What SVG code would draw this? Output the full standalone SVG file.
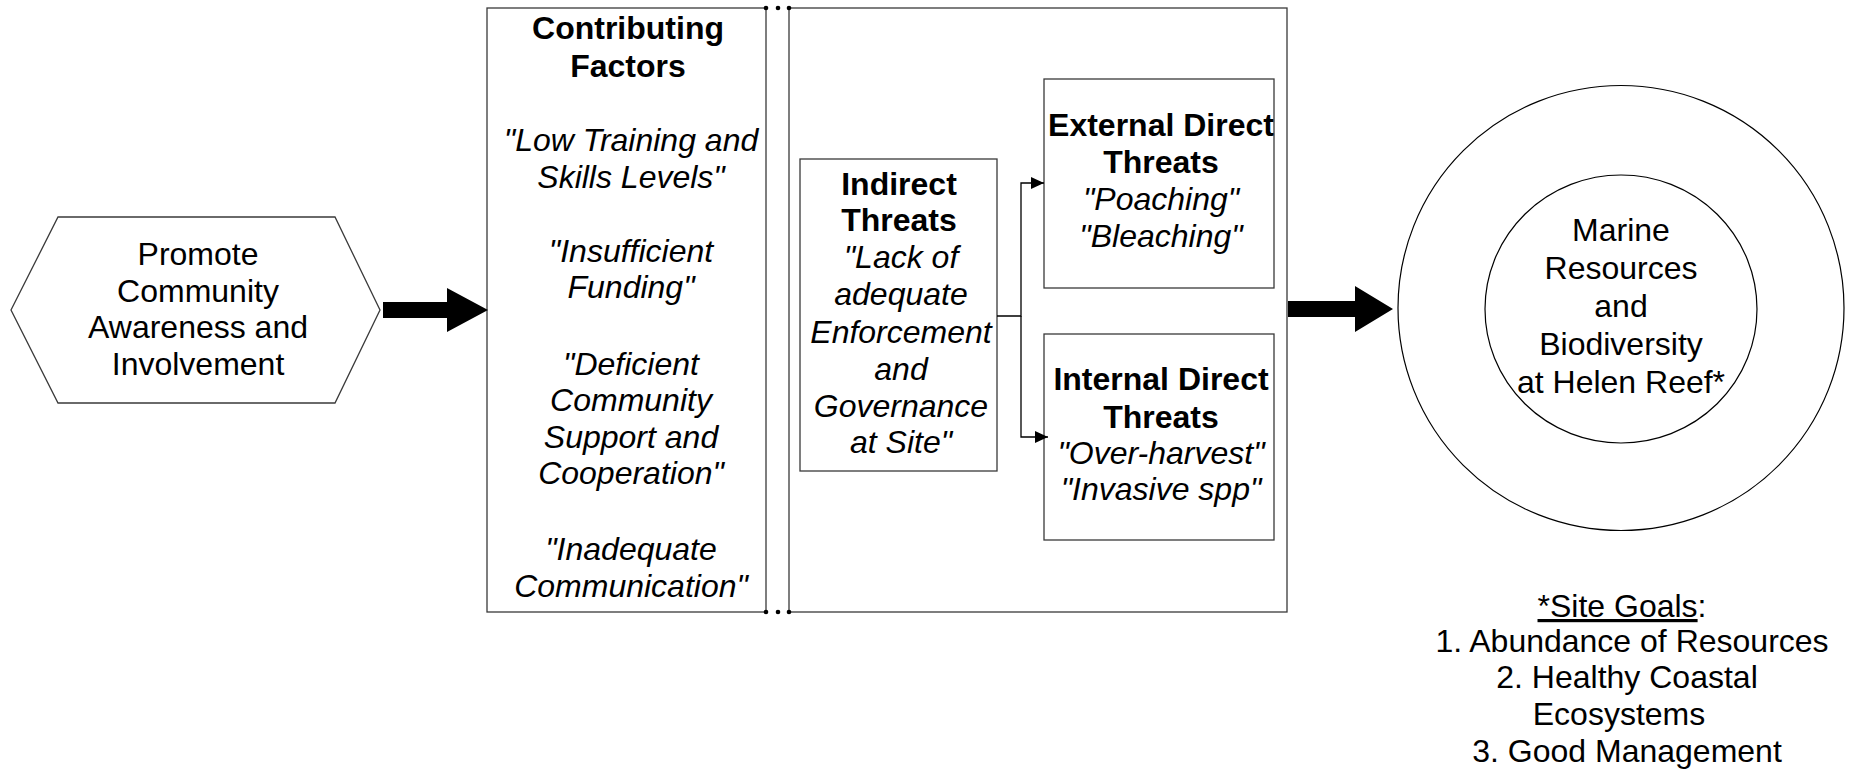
<svg xmlns="http://www.w3.org/2000/svg" width="1851" height="772" viewBox="0 0 1851 772">
<defs>
<style>
.t{font-family:"Liberation Sans",Arial,sans-serif;font-size:32px;fill:#000;text-anchor:middle}
.b{font-weight:bold}
.i{font-style:italic}
.box{fill:#fff;stroke:#3a3a3a;stroke-width:1.3}
.ln{fill:none;stroke:#000;stroke-width:1.3}
.big{fill:#000;stroke:none}
</style>
<marker id="ah" markerUnits="userSpaceOnUse" markerWidth="14" markerHeight="13" refX="13" refY="6" orient="auto">
<path d="M0,0 L13,6 L0,12 Z" fill="#000"/>
</marker>
</defs>
<rect width="1851" height="772" fill="#fff"/>

<g id="strategy">
<polygon class="box" points="11,310 58,217 335,217 380,310 335,403 58,403"/>
<text class="t" x="198" y="265">Promote</text>
<text class="t" x="198" y="302">Community</text>
<text class="t" x="198" y="338">Awareness and</text>
<text class="t" x="198" y="375">Involvement</text>
</g>

<g id="contributing-factors">
<rect class="box" x="487" y="8" width="279" height="604"/>
<text class="t b" x="628" y="39">Contributing</text>
<text class="t b" x="628" y="77">Factors</text>
<text class="t i" x="631" y="151">"Low Training and</text>
<text class="t i" x="631" y="188">Skills Levels"</text>
<text class="t i" x="631" y="262">"Insufficient</text>
<text class="t i" x="631" y="298">Funding"</text>
<text class="t i" x="631" y="375">"Deficient</text>
<text class="t i" x="631" y="411">Community</text>
<text class="t i" x="631" y="448">Support and</text>
<text class="t i" x="631" y="484">Cooperation"</text>
<text class="t i" x="631" y="560">"Inadequate</text>
<text class="t i" x="631" y="597">Communication"</text>
</g>

<g id="threats-frame">
<rect class="box" x="789" y="8" width="498" height="604"/>
<circle cx="766" cy="8" r="2.3" fill="#000"/>
<circle cx="778" cy="8" r="2.3" fill="#000"/>
<circle cx="789" cy="8" r="2.3" fill="#000"/>
<circle cx="766" cy="612" r="2.3" fill="#000"/>
<circle cx="778" cy="612" r="2.3" fill="#000"/>
<circle cx="789" cy="612" r="2.3" fill="#000"/>
</g>

<g id="indirect-threats">
<rect class="box" x="800" y="159" width="197" height="312"/>
<text class="t b" x="899" y="195">Indirect</text>
<text class="t b" x="899" y="231">Threats</text>
<text class="t i" x="901" y="268">"Lack of</text>
<text class="t i" x="901" y="305">adequate</text>
<text class="t i" x="901" y="343">Enforcement</text>
<text class="t i" x="901" y="380">and</text>
<text class="t i" x="901" y="417">Governance</text>
<text class="t i" x="901" y="453">at Site"</text>
</g>

<g id="external-threats">
<rect class="box" x="1044" y="79" width="230" height="209"/>
<text class="t b" x="1161" y="136">External Direct</text>
<text class="t b" x="1161" y="173">Threats</text>
<text class="t i" x="1161" y="210">"Poaching"</text>
<text class="t i" x="1161" y="247">"Bleaching"</text>
</g>

<g id="internal-threats">
<rect class="box" x="1044" y="334" width="230" height="206"/>
<text class="t b" x="1161" y="390">Internal Direct</text>
<text class="t b" x="1161" y="428">Threats</text>
<text class="t i" x="1161" y="464">"Over-harvest"</text>
<text class="t i" x="1161" y="500">"Invasive spp"</text>
</g>

<g id="target">
<ellipse cx="1621" cy="308" rx="223" ry="222.5" fill="none" stroke="#000" stroke-width="1.2"/>
<ellipse cx="1621" cy="309" rx="136" ry="134" fill="none" stroke="#000" stroke-width="1.2"/>
<text class="t" x="1621" y="241">Marine</text>
<text class="t" x="1621" y="279">Resources</text>
<text class="t" x="1621" y="317">and</text>
<text class="t" x="1621" y="355">Biodiversity</text>
<text class="t" x="1621" y="393">at Helen Reef*</text>
</g>

<g id="site-goals">
<text class="t" x="1622" y="617"><tspan style="text-decoration:underline">*Site Goals</tspan>:</text>
<text class="t" x="1632" y="652">1. Abundance of Resources</text>
<text class="t" x="1627" y="688">2. Healthy Coastal</text>
<text class="t" x="1619" y="725">Ecosystems</text>
<text class="t" x="1627" y="762">3. Good Management</text>
</g>

<g id="connectors">
<polygon class="big" points="383,302 447,302 447,288 488,310 447,332 447,318 383,318"/>
<polygon class="big" points="1288,301 1355,301 1355,286 1393,309 1355,332 1355,317 1288,317"/>
<polyline class="ln" points="997,316 1021,316 1021,183 1044,183" marker-end="url(#ah)"/>
<polyline class="ln" points="1021,316 1021,437 1048,437" marker-end="url(#ah)"/>
</g>
</svg>
